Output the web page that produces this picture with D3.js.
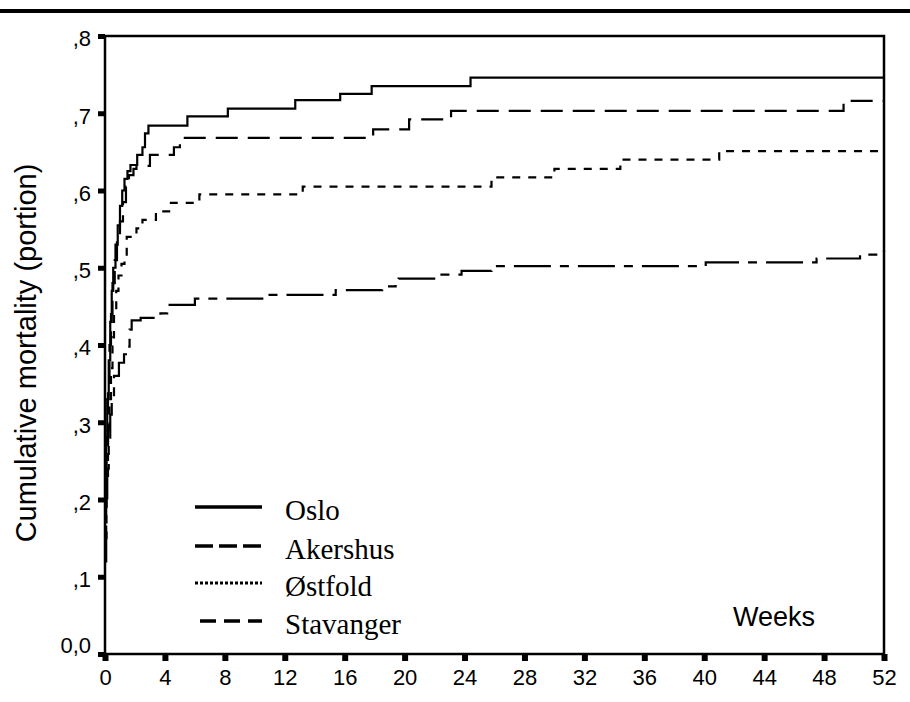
<!DOCTYPE html>
<html>
<head>
<meta charset="utf-8">
<script src="https://cdn.jsdelivr.net/npm/d3@7"></script>
<style>
  html, body { margin: 0; padding: 0; background: #fff; }
  svg { display: block; }
</style>
</head>
<body>
<svg id="chart" width="910" height="702"></svg>
<script>
// ---- data (weeks, cumulative mortality) ----
const seriesNames = ["Oslo", "Akershus", "Østfold", "Stavanger"];

const osloWeeks  = [0, 0.08, 0.15, 0.25, 0.35, 0.45, 0.55, 0.7, 0.85, 1.0, 1.15, 1.3, 1.5, 1.7, 2.15, 2.5, 2.67, 2.9, 5.5, 8.2, 12.7, 15.7, 17.8, 24.4, 52];
const osloValues = [0.22, 0.28, 0.33, 0.38, 0.43, 0.47, 0.50, 0.53, 0.555, 0.58, 0.60, 0.615, 0.625, 0.633, 0.646, 0.656, 0.674, 0.684, 0.696, 0.706, 0.717, 0.725, 0.735, 0.746, 0.746];

const akershusWeeks  = [0, 0.1, 0.2, 0.3, 0.4, 0.5, 0.65, 0.8, 1.0, 1.2, 1.4, 1.6, 1.9, 2.1, 3.0, 4.6, 5.0, 17.9, 20.3, 23.1, 49.3, 52];
const akershusValues = [0.19, 0.27, 0.34, 0.40, 0.44, 0.48, 0.51, 0.54, 0.56, 0.585, 0.605, 0.62, 0.628, 0.632, 0.646, 0.656, 0.668, 0.679, 0.692, 0.703, 0.716, 0.716];

const ostfoldWeeks  = [0, 0.1, 0.2, 0.3, 0.4, 0.5, 0.6, 0.75, 0.9, 1.1, 1.3, 1.45, 2.1, 2.5, 3.4, 4.4, 6.3, 13.2, 25.8, 30.0, 34.4, 41.0, 52];
const ostfoldValues = [0.15, 0.22, 0.28, 0.33, 0.37, 0.41, 0.44, 0.47, 0.49, 0.505, 0.515, 0.54, 0.551, 0.562, 0.573, 0.584, 0.595, 0.605, 0.617, 0.628, 0.640, 0.651, 0.651];

const stavangerWeeks  = [0, 0.08, 0.15, 0.25, 0.35, 0.45, 0.6, 0.93, 1.27, 1.5, 1.64, 1.78, 2.38, 3.7, 4.15, 6.0, 10.6, 15.4, 18.5, 19.4, 19.6, 22.2, 23.8, 25.8, 40.1, 47.5, 50.4, 52];
const stavangerValues = [0.12, 0.19, 0.24, 0.28, 0.31, 0.335, 0.36, 0.377, 0.388, 0.398, 0.42, 0.432, 0.435, 0.441, 0.452, 0.460, 0.465, 0.471, 0.476, 0.481, 0.486, 0.491, 0.496, 0.502, 0.507, 0.512, 0.517, 0.523];

const xTicks = [0, 4, 8, 12, 16, 20, 24, 28, 32, 36, 40, 44, 48, 52];
const yTicks = [0, 0.1, 0.2, 0.3, 0.4, 0.5, 0.6, 0.7, 0.8];
const yTickLabels = ["0,0", ",1", ",2", ",3", ",4", ",5", ",6", ",7", ",8"];

const yTitle = "Cumulative mortality (portion)";
const xTitle = "Weeks";

// ---- drawing ----
(function () {
const svg = d3.select("#chart");
const mLeft = 105, mRight = 884, mTop = 36, mBottom = 654;

const x = d3.scaleLinear().domain([0, 52]).range([mLeft, mRight]);
const y = d3.scaleLinear().domain([0, 0.8]).range([mBottom, mTop]);

// top rule across page
svg.append("line")
  .attr("x1", 0).attr("x2", 910).attr("y1", 11).attr("y2", 11)
  .attr("stroke", "#000").attr("stroke-width", 4);

const styles = [
  { dash: null, lw: 2.2 },
  { dash: "22,10", lw: 2.2 },
  { dash: "8,8", lw: 2.2 },
  { dash: "37,9,9,9", lw: 2.2 }
];
const legendDash = [null, "18,6", "3,2", "16,8"];

const allSeries = [
  osloWeeks.map((w, i) => [w, osloValues[i]]),
  akershusWeeks.map((w, i) => [w, akershusValues[i]]),
  ostfoldWeeks.map((w, i) => [w, ostfoldValues[i]]),
  stavangerWeeks.map((w, i) => [w, stavangerValues[i]])
];

const line = d3.line()
  .x(d => x(d[0]))
  .y(d => y(d[1]))
  .curve(d3.curveStepAfter);

const gLines = svg.append("g");
allSeries.forEach((s, i) => {
  gLines.append("path")
    .datum(s)
    .attr("d", line)
    .attr("fill", "none")
    .attr("stroke", "#000")
    .attr("stroke-width", styles[i].lw)
    .attr("stroke-dasharray", styles[i].dash);
});

// frame
svg.append("rect")
  .attr("x", mLeft).attr("y", mTop)
  .attr("width", mRight - mLeft).attr("height", mBottom - mTop)
  .attr("fill", "none").attr("stroke", "#000").attr("stroke-width", 2.5);

// axes
const fontFam = "'Liberation Sans', Arial, sans-serif";
const xAxis = d3.axisBottom(x).tickValues(xTicks).tickSizeInner(7).tickSizeOuter(0).tickPadding(8)
  .tickFormat(d => String(d));
const gx = svg.append("g").attr("transform", `translate(0,${mBottom})`).call(xAxis);
gx.select(".domain").remove();
gx.selectAll(".tick line").attr("stroke", "#000").attr("stroke-width", 6);
gx.selectAll(".tick text").attr("font-family", fontFam).attr("font-size", 22).attr("fill", "#000");

const yAxis = d3.axisLeft(y).tickValues(yTicks).tickSizeInner(7).tickSizeOuter(0).tickPadding(7)
  .tickFormat((d, i) => yTickLabels[i]);
const gy = svg.append("g").attr("transform", `translate(${mLeft},0)`).call(yAxis);
gy.select(".domain").remove();
gy.selectAll(".tick line").attr("stroke", "#000").attr("stroke-width", 5);
gy.selectAll(".tick text").attr("font-family", fontFam).attr("font-size", 22).attr("fill", "#000")
  .attr("dy", "0.45em");
gy.selectAll(".tick text").filter(d => d === 0).attr("dy", "-0.05em");

// y title
svg.append("text")
  .attr("transform", `translate(36,${(mTop + mBottom) / 2 + 8}) rotate(-90)`)
  .attr("text-anchor", "middle")
  .attr("font-family", fontFam).attr("font-size", 29)
  .text(yTitle);

// x title
svg.append("text")
  .attr("x", 774).attr("y", 626)
  .attr("text-anchor", "middle")
  .attr("font-family", fontFam).attr("font-size", 27)
  .text(xTitle);

// legend
const legY = [507, 546, 583, 621];
const gLeg = svg.append("g");
seriesNames.forEach((name, i) => {
  gLeg.append("line")
    .attr("x1", i === 3 ? 200 : 195).attr("x2", 262)
    .attr("y1", legY[i]).attr("y2", legY[i])
    .attr("stroke", "#000").attr("stroke-width", i === 2 ? 3 : 3.5)
    .attr("stroke-dasharray", legendDash[i]);
  gLeg.append("text")
    .attr("x", 285).attr("y", legY[i] + 13)
    .attr("font-family", "'Liberation Serif', 'Times New Roman', serif")
    .attr("font-size", 29)
    .text(name);
});
})();
</script>
</body>
</html>
